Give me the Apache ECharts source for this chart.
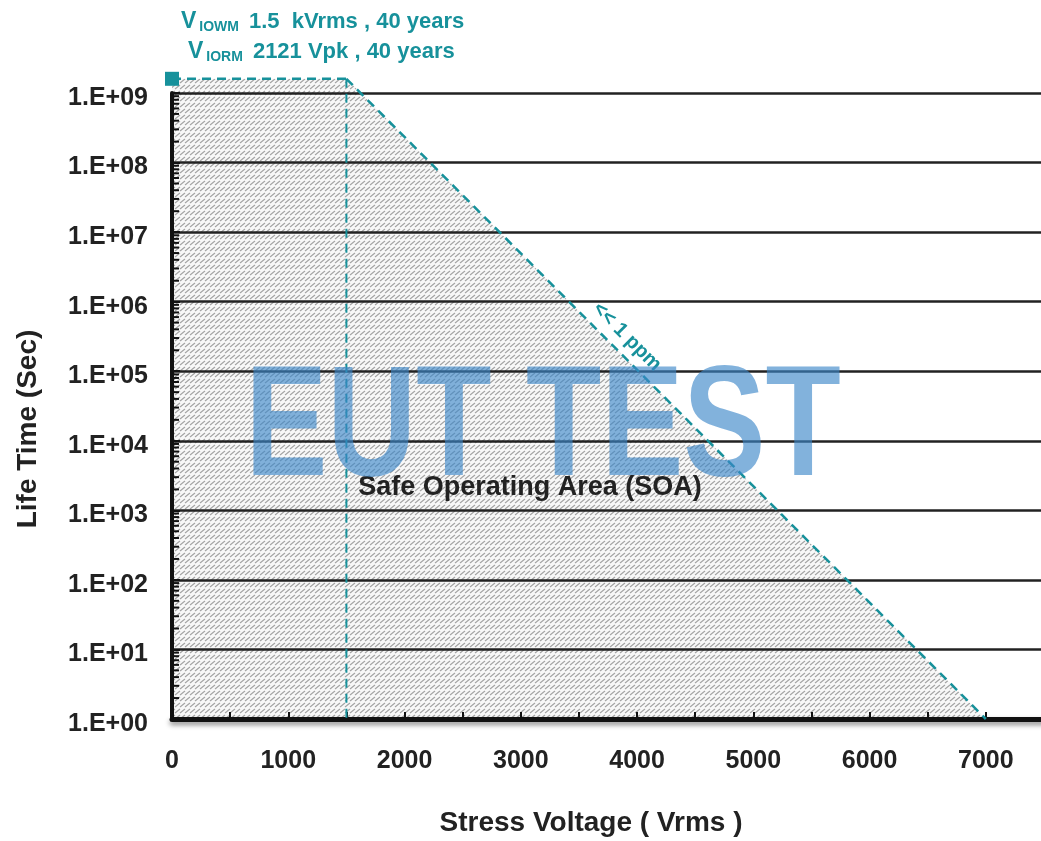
<!DOCTYPE html>
<html><head><meta charset="utf-8">
<script src="https://cdn.jsdelivr.net/npm/echarts@6/dist/echarts.min.js"></script>
<style>html,body{margin:0;padding:0;background:#fff}#c{width:1041px;height:841px}</style>
</head><body><div id="c"></div>
<script>
// ---- data ----
const xTickValues = [0, 1000, 2000, 3000, 4000, 5000, 6000, 7000];
const lifeDecades = [1, 10, 100, 1e3, 1e4, 1e5, 1e6, 1e7, 1e8, 1e9];
const minorMultipliers = [2, 3, 4, 5, 6, 7, 8, 9];
const soaVoltage = [0, 0, 1500, 7000];        // Vrms
const soaLife = [1, 1.6e9, 1.6e9, 1];         // seconds
const kneeVoltage = 1500;
const topLife = 1.6e9;
const maxVoltage = 7000;
const annotation1 = ['IOWM', '1.5  kVrms , 40 years'];
const annotation2 = ['IORM', '2121 Vpk , 40 years'];

const FONT = "'Liberation Sans Narrow', 'Liberation Sans', Arial, sans-serif";
const TEAL = '#17919b';
const L = v => Math.log10(v);

// hatch pattern (short slanted strokes in rows)
const pc = document.createElement('canvas');
pc.width = 5; pc.height = 6;
const g = pc.getContext('2d');
g.fillStyle = '#f8f8f8'; g.fillRect(0, 0, 5, 6);
g.strokeStyle = '#a2a2a2'; g.lineWidth = 1.2;
[-5, 0, 5].forEach(dx => { g.beginPath(); g.moveTo(dx, 5); g.lineTo(dx + 5, 1); g.stroke(); });

const chart = echarts.init(document.getElementById('c'), null, {renderer: 'canvas'});

const polyData = soaVoltage.map((v, i) => [v, L(soaLife[i])]);
const minorTickData = [];
lifeDecades.slice(0, -1).forEach(d => minorMultipliers.forEach(m => minorTickData.push([0, L(d * m)])));

const rich = {
  v: {fontFamily: FONT, fontWeight: 'bold', fontSize: 23, fill: TEAL},
  s: {fontFamily: FONT, fontWeight: 'bold', fontSize: 14, fill: TEAL, verticalAlign: 'bottom', padding: [12, 0, 0, 3]},
  t: {fontFamily: FONT, fontWeight: 'bold', fontSize: 22, fill: TEAL}
};

chart.setOption({
  animation: false,
  backgroundColor: '#fff',
  grid: {left: 172, top: 93, width: 872, height: 626, outerBoundsMode: 'none', containLabel: false},
  xAxis: {
    type: 'value', min: 0, max: 7500, interval: 1000,
    axisLine: {lineStyle: {color: '#111', width: 5, shadowColor: 'rgba(0,0,0,0.45)', shadowBlur: 5, shadowOffsetY: 3}},
    axisTick: {show: true, inside: true, length: 7, lineStyle: {color: '#111', width: 2}},
    minorTick: {show: true, splitNumber: 2, length: 7, lineStyle: {color: '#111', width: 2}},
    axisLabel: {fontFamily: FONT, fontWeight: 'bold', fontSize: 25, color: '#222', margin: 30,
      formatter: v => (xTickValues.includes(v) ? String(v) : '')},
    splitLine: {show: false}
  },
  yAxis: {
    type: 'value', min: 0, max: 9, interval: 1,
    axisLine: {show: true, lineStyle: {color: '#111', width: 4}},
    axisTick: {show: true, inside: true, length: 8, lineStyle: {color: '#111', width: 2}},
    axisLabel: {margin: 24,
      formatter: v => '{a|1.E+' + String(Math.round(v)).padStart(2, '0') + '}',
      rich: {a: {fontFamily: FONT, fontWeight: 'bold', fontSize: 25, color: '#222', padding: [10, 0, 0, 0]}}},
    splitLine: {show: true, lineStyle: {color: '#222', width: 2.5}}
  },
  series: [
    {
      type: 'custom', z: -1, clip: false, silent: true,
      data: [0],
      renderItem: (params, api) => ({
        type: 'polygon',
        shape: {points: polyData.map(p => api.coord(p))},
        style: {fill: {image: pc, repeat: 'repeat'}, stroke: null}
      })
    },
    {
      type: 'custom', clip: false, silent: true, z: 3,
      data: minorTickData,
      renderItem: (params, api) => {
        const p = api.coord([api.value(0), api.value(1)]);
        return {type: 'line', shape: {x1: p[0], y1: p[1], x2: p[0] + 7, y2: p[1]},
          style: {stroke: '#111', lineWidth: 2}};
      }
    },
    {
      type: 'line', clip: false, symbol: 'none', silent: true, z: 4,
      data: [[0, L(topLife)], [kneeVoltage, L(topLife)]],
      lineStyle: {color: TEAL, width: 2.5, type: [9, 6]}
    },
    {
      type: 'line', clip: false, symbol: 'none', silent: true, z: 4,
      data: [[kneeVoltage, L(topLife)], [kneeVoltage, 0]],
      lineStyle: {color: TEAL, width: 2, type: [9, 6]}
    },
    {
      type: 'line', clip: false, symbol: 'none', silent: true, z: 4,
      data: [[kneeVoltage, L(topLife)], [maxVoltage, 0]],
      lineStyle: {color: TEAL, width: 2.5, type: [9, 6]}
    },
    {
      type: 'scatter', clip: false, silent: true, z: 5,
      symbol: 'rect', symbolSize: 14,
      itemStyle: {color: TEAL, opacity: 1},
      data: [[0, L(topLife)]]
    }
  ],
  graphic: [
    {type: 'text', left: 181, top: 10, z: 10, style: {
      text: '{v|V}{s|' + annotation1[0] + '}   {t|' + annotation1[1] + '}', rich}},
    {type: 'text', left: 188, top: 40, z: 10, style: {
      text: '{v|V}{s|' + annotation2[0] + '}   {t|' + annotation2[1] + '}', rich}},
    {type: 'text', x: 28, y: 429, rotation: Math.PI / 2, z: 10, style: {
      text: 'Life Time (Sec)', fontFamily: FONT, fontWeight: 'bold', fontSize: 28,
      fill: '#222', align: 'center', verticalAlign: 'middle'}},
    {type: 'text', x: 591, y: 823, z: 10, style: {
      text: 'Stress Voltage ( Vrms )', fontFamily: FONT, fontWeight: 'bold', fontSize: 28,
      fill: '#222', align: 'center', verticalAlign: 'middle'}},
    {type: 'text', x: 530, y: 488, z: 10, style: {
      text: 'Safe Operating Area (SOA)', fontFamily: FONT, fontWeight: 'bold', fontSize: 27,
      fill: '#222', align: 'center', verticalAlign: 'middle'}},
    {type: 'text', x: 627, y: 337, rotation: -Math.PI / 4, z: 10, style: {
      text: '<< 1 ppm', fontFamily: FONT, fontWeight: 'bold', fontSize: 20,
      fill: TEAL, align: 'center', verticalAlign: 'middle'}},
    {type: 'text', x: 543, y: 431, scaleX: 0.78, z: 20, style: {
      text: 'EUT TEST', fontFamily: FONT, fontWeight: 'bold', fontSize: 158,
      fill: 'rgba(60,135,200,0.64)', align: 'center', verticalAlign: 'middle'}}
  ]
});
</script></body></html>
